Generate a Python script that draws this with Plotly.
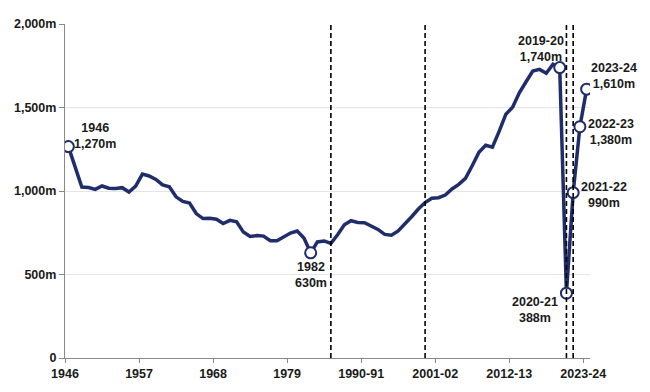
import plotly.graph_objects as go

calendar_years = [str(y) for y in range(1946, 1985)]
fiscal_years = [f"{y}-{str(y + 1)[-2:]}" for y in range(1985, 2024)]
categories = calendar_years + fiscal_years

journeys = [
    1266, 1140, 1024, 1021, 1010, 1030, 1017, 1015, 1020, 994,
    1029, 1101, 1090, 1069, 1037, 1025, 965, 938, 928, 865,
    835, 837, 831, 805, 824, 816, 754, 728, 733, 730,
    702, 702, 724, 748, 760, 719, 630, 695, 701,
    686, 738, 798, 822, 812, 810, 792, 770, 740, 735,
    761, 801, 846, 892, 931, 957, 960, 976, 1012, 1040,
    1076, 1151, 1232, 1274, 1262, 1357, 1460, 1501, 1588, 1654,
    1718, 1728, 1705, 1759, 1739, 388, 990, 1385, 1610,
]

tick_labels = ["1946", "1957", "1968", "1979", "1990-91", "2001-02", "2012-13", "2023-24"]
break_years = ["1985-86", "1999-00", "2020-21", "2021-22"]
y_ticks = [0, 500, 1000, 1500, 2000]
y_tick_text = ["0", "500m", "1,000m", "1,500m", "2,000m"]

highlight = ["1946", "1982", "2019-20", "2020-21", "2021-22", "2022-23", "2023-24"]
highlight_text = ["1946<br>1,270m", "1982<br>630m", "2019-20<br>1,740m", "2020-21<br>388m",
                  "2021-22<br>990m", "2022-23<br>1,380m", "2023-24<br>1,610m"]
label_shift = [(27, 11), (0, -22), (-19, 19), (-31, -17), (31, -2), (31, -5), (27, 13)]

NAVY = "#1F2D6B"
FONT = "Arial, Liberation Sans, sans-serif"

xs = list(range(len(categories)))

fig = go.Figure()
fig.add_trace(go.Scatter(
    x=xs, y=journeys, mode="lines",
    line=dict(color=NAVY, width=3.5),
    text=categories, hoverinfo="text+y", showlegend=False,
))

hx = [categories.index(c) for c in highlight]
hy = [journeys[i] for i in hx]
fig.add_trace(go.Scatter(
    x=hx, y=hy, mode="markers",
    marker=dict(size=11, color="white", line=dict(color=NAVY, width=2)),
    showlegend=False, hoverinfo="skip",
))

for c in break_years:
    i = categories.index(c)
    fig.add_shape(type="line", xref="x", yref="y", x0=i, x1=i, y0=0, y1=2000,
                  line=dict(color="black", width=1.6, dash="5px,3px"), layer="above")

for xi, yi, t, (dx, dy) in zip(hx, hy, highlight_text, label_shift):
    fig.add_annotation(x=xi, y=yi, text=t, showarrow=False, xanchor="center", yanchor="middle",
                       xshift=dx, yshift=dy,
                       font=dict(family=FONT, size=12.5, color="#1a1a1a", weight="bold"))

fig.update_layout(
    width=650, height=392,
    margin=dict(l=65, r=60, t=24, b=34, autoexpand=False),
    plot_bgcolor="white", paper_bgcolor="white",
    font=dict(family=FONT, size=12.5, color="#1a1a1a"),
)
fig.update_xaxes(
    range=[-0.5, len(categories) - 0.5],
    tickvals=[categories.index(t) - 0.5 for t in tick_labels],
    ticktext=tick_labels,
    ticks="outside", ticklen=4, tickcolor="#888888",
    showline=True, linecolor="#888888", linewidth=1.2,
    showgrid=False, zeroline=False,
    tickfont=dict(family=FONT, size=12.5, color="#1a1a1a", weight="bold"),
)
fig.update_yaxes(
    range=[0, 2000],
    tickvals=y_ticks, ticktext=y_tick_text,
    ticks="outside", ticklen=5, tickcolor="#888888",
    showline=True, linecolor="#888888", linewidth=1.2,
    showgrid=True, gridcolor="#E4E4EC", gridwidth=1, zeroline=False,
    tickfont=dict(family=FONT, size=12.5, color="#1a1a1a", weight="bold"),
)

fig.write_html("out.html", config={"displayModeBar": False},
               post_script="document.body.style.margin='0';")
